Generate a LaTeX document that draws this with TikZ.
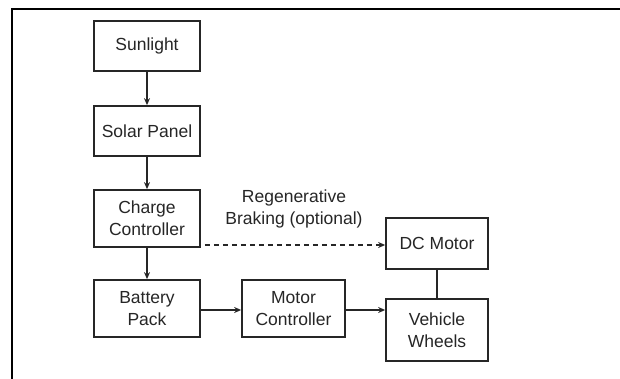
\documentclass[tikz,border=0pt]{standalone}
\usepackage{fontspec}
\setmainfont{Liberation Sans}
\usetikzlibrary{arrows.meta}
\begin{document}
\begin{tikzpicture}[x=1pt,y=-1pt,
  box/.style={draw=black!85, line width=1.7pt, minimum width=#1, align=center, inner sep=0pt,
    font=\fontsize{17.5}{22}\selectfont, text=black!85},
  box/.default=106pt,
  conn/.style={draw=black!85, line width=1.3pt, -{Stealth[length=7pt,width=6pt]}},
  plain/.style={draw=black!85, line width=1.3pt},
  lbl/.style={align=center, font=\fontsize{17.5}{22.5}\selectfont, text=black!85}]
\useasboundingbox (0,0) rectangle (620,379);
\fill[white] (0,0) rectangle (620,379);
\draw[line width=2.6pt] (12,379) -- (12,9) -- (620,9);
\node[box, minimum height=50pt] (sun) at (147,46) {Sunlight};
\node[box, minimum height=50pt] (solar) at (147,131) {Solar Panel};
\node[box, minimum height=57pt] (cc) at (147,218.5) {Charge\\Controller};
\node[box, minimum height=57pt] (bat) at (147,308.5) {Battery\\Pack};
\node[box=103pt, minimum height=57pt] (mc) at (293.5,308.5) {Motor\\Controller};
\node[box=102pt, minimum height=51pt] (dc) at (437,243.5) {DC Motor};
\node[box=102pt, minimum height=62pt] (vw) at (437,330) {Vehicle\\Wheels};
\node[lbl] (reg) at (294,209) {Regenerative\\Braking (optional)};
\draw[conn] (sun) -- (solar);
\draw[conn] (solar) -- (cc);
\draw[conn] (cc) -- (bat);
\draw[conn] (bat.east |- 0,310) coordinate (b1) -- (mc.west |- b1);
\draw[conn] (mc.east |- 0,310) coordinate (m1) -- (vw.west |- m1);
\draw[conn, dashed, dash pattern=on 5pt off 4pt, line width=1.1pt, shorten <=4pt] (cc.east |- 0,245) coordinate (c1) -- (dc.west |- c1);
\draw[plain] (dc.south) -- (vw.north);
\end{tikzpicture}
\end{document}
